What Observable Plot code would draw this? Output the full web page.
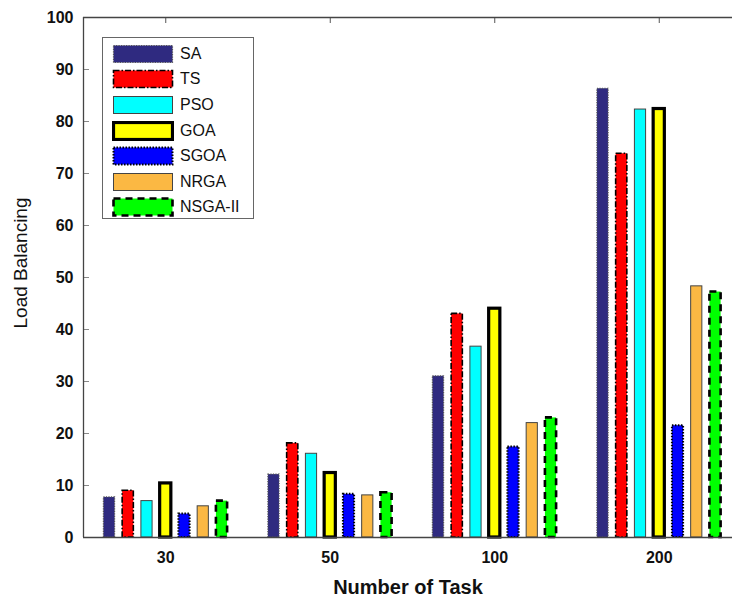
<!DOCTYPE html>
<html>
<head>
<meta charset="utf-8">
<script src="https://cdn.jsdelivr.net/npm/d3@7"></script>
<script src="https://cdn.jsdelivr.net/npm/@observablehq/plot@0.6"></script>
<style>
  html, body { margin: 0; padding: 0; background: #fff; }
  #wrap { position: relative; width: 732px; height: 599px; font-family: "Liberation Sans", Arial, sans-serif; }
  #legend { position: absolute; left: 102px; top: 37px; width: 152px; height: 182px; border: 1.5px solid #666; background: #fff; box-sizing: border-box; padding-top: 3px; }
  .row { display: flex; align-items: center; height: 25.6px; }
  .row svg { margin-left: 9px; }
  .row span { margin-left: 6px; font-size: 16px; color: #111; }
</style>
</head>
<body>
<div id="wrap"></div>
<script>
// ---- data ----
const tasks = ["30", "50", "100", "200"];
const algorithms = ["SA", "TS", "PSO", "GOA", "SGOA", "NRGA", "NSGA-II"];
const SA      = [7.7, 12.1, 31.0, 86.3];
const TS      = [9.0, 18.1, 43.0, 73.8];
const PSO     = [7.0, 16.1, 36.7, 82.3];
const GOA     = [10.4, 12.4, 44.0, 82.4];
const SGOA    = [4.5, 8.3, 17.4, 21.5];
const NRGA    = [6.0, 8.1, 22.0, 48.3];
const NSGA_II = [7.0, 8.6, 23.0, 47.2];
const yTicks  = [0, 10, 20, 30, 40, 50, 60, 70, 80, 90, 100];

const seriesValues = [SA, TS, PSO, GOA, SGOA, NRGA, NSGA_II];

// ---- styles ----
const styles = [
  {fill: "#2f2a80", stroke: "#555", strokeWidth: 1.2, dash: "1.2,1.3"},
  {fill: "#ff0000", stroke: "#000", strokeWidth: 1.6, dash: "6,2,1.5,2"},
  {fill: "#00ffff", stroke: "#444", strokeWidth: 1, dash: null},
  {fill: "#ffff00", stroke: "#000", strokeWidth: 3.2, dash: null},
  {fill: "#0000ff", stroke: "#000", strokeWidth: 2, dash: "1.5,1.5"},
  {fill: "#fbb843", stroke: "#444", strokeWidth: 1, dash: null},
  {fill: "#00ff00", stroke: "#000", strokeWidth: 2.6, dash: "7,5"}
];

const rows = [];
algorithms.forEach((a, s) => {
  seriesValues[s].forEach((v, g) => rows.push({algo: a, s, g: g + 1, task: tasks[g], value: v}));
});

const step = 0.114, half = 0.034;
const font = "'Liberation Sans', Arial, sans-serif";

const barMarks = algorithms.map((a, s) => Plot.rectY(rows.filter(d => d.s === s), {
  x1: d => d.g + (d.s - 3) * step - half,
  x2: d => d.g + (d.s - 3) * step + half,
  y1: 0,
  y2: "value",
  fill: styles[s].fill,
  stroke: styles[s].stroke,
  strokeWidth: styles[s].strokeWidth,
  strokeDasharray: styles[s].dash
}));

const chart = Plot.plot({
  width: 732,
  height: 599,
  marginTop: 17,
  marginBottom: 62,
  marginLeft: 83,
  marginRight: 0,
  style: {fontFamily: font, background: "#fff"},
  x: {domain: [0.5, 4.5], range: [83, 741]},
  y: {domain: [0, 100], range: [537, 17]},
  marks: [
    Plot.axisY({ticks: yTicks, tickSize: -6, fill: "none", stroke: "#888", label: null}),
    Plot.axisY({ticks: yTicks, tickSize: 0, tickPadding: 10, fontSize: 16, fontWeight: "bold", fill: "#111", label: null}),
    Plot.axisX({anchor: "top", ticks: [1, 2, 3, 4], tickSize: -5, fill: "none", stroke: "#555", label: null}),
    Plot.axisX({ticks: [1, 2, 3, 4], tickFormat: i => tasks[i - 1], tickSize: 0, tickPadding: 14, fontSize: 16, fontWeight: "bold", fill: "#111", label: null}),
    ...barMarks,
    Plot.ruleY([0], {stroke: "#444", strokeWidth: 1.3}),
    Plot.ruleY([100], {stroke: "#444", strokeWidth: 1.3}),
    Plot.ruleX([0.5], {stroke: "#444", strokeWidth: 1.3}),
    Plot.text(["Number of Task"], {frameAnchor: "bottom", dy: 56, fontSize: 20, fontWeight: "bold", fill: "#111", letterSpacing: "-0.6px"}),
    Plot.text(["Load Balancing"], {frameAnchor: "left", dx: -63, dy: 51, rotate: -90, fontSize: 19, fill: "#111"})
  ]
});

const wrap = document.getElementById("wrap");
wrap.appendChild(chart);

// ---- legend ----
const legend = document.createElement("div");
legend.id = "legend";
algorithms.forEach((a, s) => {
  const row = document.createElement("div");
  row.className = "row";
  const st = styles[s];
  row.innerHTML = `<svg width="62" height="20"><rect x="1.5" y="1.5" width="59" height="17" fill="${st.fill}" stroke="${st.stroke}" stroke-width="${st.strokeWidth}" ${st.dash ? `stroke-dasharray="${st.dash}"` : ""}></rect></svg><span>${a}</span>`;
  legend.appendChild(row);
});
wrap.appendChild(legend);
</script>
</body>
</html>
